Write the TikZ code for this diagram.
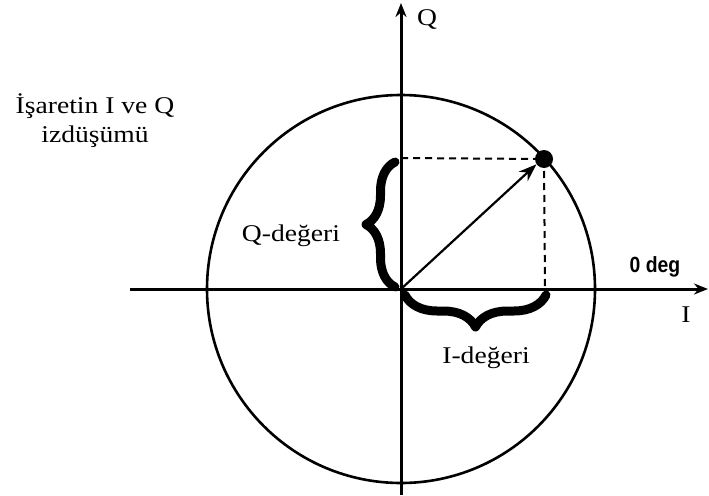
\documentclass[tikz,border=0pt]{standalone}
\usepackage{fontspec}
\setmainfont{Liberation Serif}
\newfontfamily\lab[FakeStretch=1.15]{Liberation Serif}
\newfontfamily\degfont[FakeStretch=0.88]{Liberation Sans}
\usetikzlibrary{decorations.pathreplacing,arrows.meta}
\begin{document}
\begin{tikzpicture}[x=1pt,y=-1pt,
  axis/.style={line width=3pt,-{Stealth[length=14pt,width=11pt]}},
  ring/.style={line width=2.6pt},
  guide/.style={line width=2pt,dash pattern=on 7pt off 5pt},
  vec/.style={line width=2.2pt,-{Stealth[length=18pt,width=13pt]}},
  bigbrace/.style={decorate,line width=9pt,line cap=round,line join=round,decoration={brace,amplitude=#1}},
  txt/.style={font=\lab\fontsize{24}{30}\selectfont,inner sep=0pt,align=center},
  dot/.style={circle,fill=black,minimum size=18pt,inner sep=0pt}]
\useasboundingbox (0,0) rectangle (709,495);
\coordinate (O) at (401,289);
\coordinate (xl) at (130,289);
\coordinate (xr) at (708,289);
\coordinate (yb) at (401,495);
\coordinate (yt) at (401,3);
\coordinate (qa) at (401,158);
\coordinate (ib) at (545,289);
\node[dot] (P) at (544,159) {};
\draw[ring] (O) circle[radius=194pt];
\draw[axis] (xl) -- (xr);
\draw[axis] (yb) -- (yt);
\draw[guide] (qa) -- (P.center);
\draw[guide] (P.center) -- (ib);
\draw[vec] (O) -- (P.215);
\coordinate (qb1) at (395,287);
\coordinate (qb2) at (395,162);
\draw[bigbrace=29pt] (qb1) -- (qb2);
\coordinate (ib1) at (546,295);
\coordinate (ib2) at (405,295);
\draw[bigbrace=32pt] (ib1) -- (ib2);
\node[txt] (Q) at (427,20) {Q};
\node[txt] (I) at (686,315) {I};
\node[font=\degfont\bfseries\fontsize{22}{24}\selectfont,inner sep=0pt] (deg) at (655,267) {0 deg};
\node[txt] (qv) at (291,236) {Q-değeri};
\node[txt] (iv) at (486,358) {I-değeri};
\node[txt,align=center] (title) at (95,121) {İşaretin I ve Q\\[-1pt]izdüşümü};
\end{tikzpicture}
\end{document}
